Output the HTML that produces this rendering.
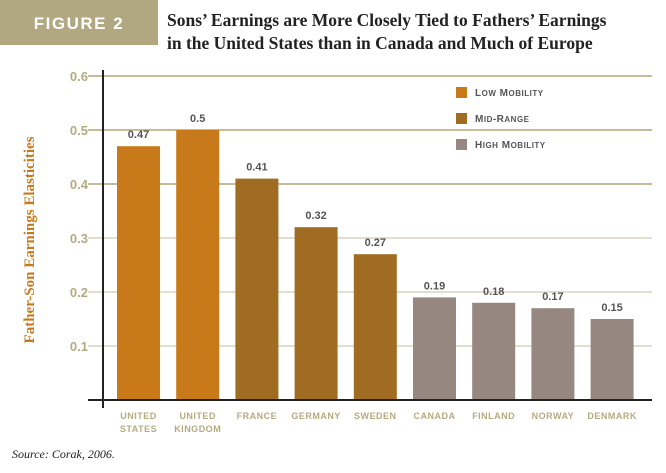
<!DOCTYPE html>
<html><head><meta charset="utf-8"><style>
body{margin:0;background:#fff;}
svg text{font-family:"Liberation Sans",sans-serif;}
</style></head><body>
<svg width="666" height="468" viewBox="0 0 666 468">
<rect x="0" y="0" width="158" height="45" fill="#b1a882"/>
<text x="79" y="29" text-anchor="middle" fill="#fff" font-size="17" font-weight="bold" letter-spacing="1.5">FIGURE 2</text>
<text x="167" y="26" font-family="Liberation Serif,serif" style="font-family:'Liberation Serif',serif" font-size="17.5" font-weight="bold" fill="#222">Sons’ Earnings are More Closely Tied to Fathers’ Earnings</text>
<text x="167" y="49" style="font-family:'Liberation Serif',serif" font-size="17.5" font-weight="bold" fill="#222">in the United States than in Canada and Much of Europe</text>
<text transform="translate(34,240) rotate(-90)" text-anchor="middle" style="font-family:'Liberation Serif',serif" font-size="15" font-weight="bold" fill="#c87a1a">Father-Son Earnings Elasticities</text>
<g id="grid"></g>
<g id="bars"></g>
<line x1="103" y1="70" x2="103" y2="408" stroke="#222" stroke-width="2"/>
<line x1="88" y1="400" x2="652" y2="400" stroke="#222" stroke-width="2"/>
<g>
<rect x="456" y="87" width="11" height="11" fill="#c87a1a"/>
<text x="475" y="96" font-size="10" font-weight="bold" fill="#555" letter-spacing="0.5">L<tspan font-size="8">OW</tspan> M<tspan font-size="8">OBILITY</tspan></text>
<rect x="456" y="113" width="11" height="11" fill="#a06c21"/>
<text x="475" y="122" font-size="10" font-weight="bold" fill="#555" letter-spacing="0.5">M<tspan font-size="8">ID</tspan>-R<tspan font-size="8">ANGE</tspan></text>
<rect x="456" y="139" width="11" height="11" fill="#968780"/>
<text x="475" y="148" font-size="10" font-weight="bold" fill="#555" letter-spacing="0.5">H<tspan font-size="8">IGH</tspan> M<tspan font-size="8">OBILITY</tspan></text>
</g>
<text x="12" y="458" style="font-family:'Liberation Serif',serif" font-size="12" font-style="italic" fill="#222">Source: Corak, 2006.</text>
</svg>
<script>
const categories=[["UNITED","STATES"],["UNITED","KINGDOM"],["FRANCE"],["GERMANY"],["SWEDEN"],["CANADA"],["FINLAND"],["NORWAY"],["DENMARK"]];
const values=[0.47,0.5,0.41,0.32,0.27,0.19,0.18,0.17,0.15];
const groups=["low","low","mid","mid","mid","high","high","high","high"];
const ticks=[0.1,0.2,0.3,0.4,0.5,0.6];
const tickLabels=["0.1","0.2","0.3","0.4","0.5","0.6"];
const colors={low:"#c87a1a",mid:"#a06c21",high:"#968780"};
const NS="http://www.w3.org/2000/svg";
const y=v=>400-v*540;
const x=i=>117+i*59.2;
const bw=43;
function mk(t,a){const e=document.createElementNS(NS,t);for(const k in a)e.setAttribute(k,a[k]);return e;}
const grid=document.getElementById('grid');
ticks.forEach((t,i)=>{
  const l=mk('line',{x1:88,x2:652,y1:y(t),y2:y(t),stroke:t>=0.4?"#b0a67a":"#d8d4c4","stroke-width":1.5});
  
  
  grid.appendChild(l);
  const tx=mk('text',{x:88,y:y(t)+5,"text-anchor":"end","font-size":13,"font-weight":"bold",fill:"#b5ab80"});
  tx.textContent=tickLabels[i];
  
  
  grid.appendChild(tx);
});
const bars=document.getElementById('bars');
values.forEach((v,i)=>{
  const r=mk('rect',{x:x(i),y:y(v),width:bw,height:400-y(v),fill:colors[groups[i]]});
  
  
  bars.appendChild(r);
  const vt=mk('text',{x:x(i)+bw/2,y:y(v)-8,"text-anchor":"middle","font-size":11,"font-weight":"bold",fill:"#555"});
  vt.textContent=String(v);
  
  
  bars.appendChild(vt);
  categories[i].forEach((c,j)=>{
    const ct=mk('text',{x:x(i)+bw/2,y:419+j*13,"text-anchor":"middle","font-size":9,"font-weight":"bold",fill:"#b5ab80","letter-spacing":"0.5"});
    ct.textContent=c;
    
    
    bars.appendChild(ct);
  });
});
</script>
</body></html>
